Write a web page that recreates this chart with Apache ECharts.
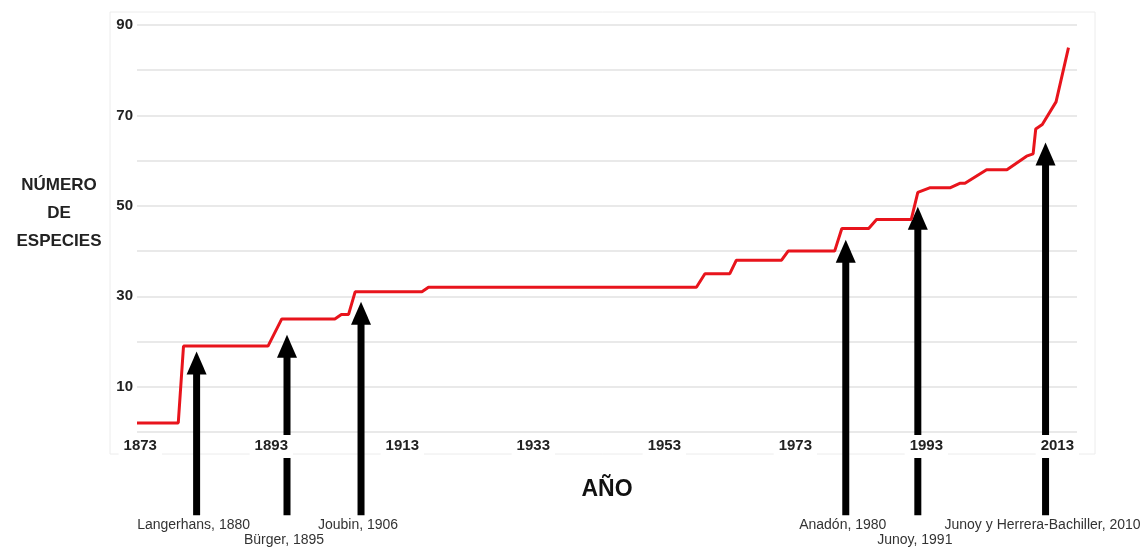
<!DOCTYPE html>
<html>
<head>
<meta charset="utf-8">
<script src="https://cdn.jsdelivr.net/npm/echarts@6/dist/echarts.min.js"></script>
<style>
  html, body { margin: 0; padding: 0; background: #fff; }
  #myChart { width: 1146px; height: 547px; }
</style>
</head>
<body>
<div id="myChart"></div>
<script>
// datos de la curva (año, número de especies)
var years = [1872.5, 1878.8, 1879.6, 1892.5, 1894.6, 1902.7, 1903.7, 1904.8, 1905.8, 1916.0, 1917.0,
             1957.9, 1959.2, 1963.0, 1964.0, 1970.9, 1971.9, 1979.0, 1980.1, 1984.2, 1985.4,
             1990.7, 1991.7, 1993.5, 1996.6, 1998.1, 1998.9, 2002.2, 2005.3, 2008.3, 2009.3,
             2009.7, 2010.7, 2012.8, 2014.7];
var counts = [2, 2, 19, 19, 25, 25, 26, 26, 31, 31, 32,
              32, 35, 35, 38, 38, 40, 40, 45, 45, 47,
              47, 53, 54, 54, 55, 55, 58, 58, 61, 61.5,
              67, 68, 73, 85];

// etiquetas de los ejes
var yearTicks = [1873, 1893, 1913, 1933, 1953, 1973, 1993, 2013];
var yLabels = [10, 30, 50, 70, 90];

// flechas: año, punta (valor), texto, fila del texto
var arrowYears = [1881.6, 1895.4, 1906.7, 1980.7, 1991.7, 2011.2];
var arrowTips = [17.8, 21.5, 28.8, 42.5, 49.8, 64];
var arrowNames = ['Langerhans, 1880', 'Bürger, 1895', 'Joubin, 1906', 'Anadón, 1980', 'Junoy, 1991', 'Junoy y Herrera-Bachiller, 2010'];
var arrowRows = [0, 1, 0, 0, 1, 0];
var ARROW_BASE = -18.4;

var FONT = 'Liberation Sans, Arial, sans-serif';

var lineData = [];
for (var i = 0; i < years.length; i++) {
    lineData.push([years[i], counts[i]]);
}
var arrowData = [];
for (var j = 0; j < arrowYears.length; j++) {
    arrowData.push([arrowYears[j], arrowTips[j], arrowRows[j], j]);
}

var chart = echarts.init(document.getElementById('myChart'));
chart.setOption({
    animation: false,
    backgroundColor: '#fff',
    grid: { left: 137, right: 69, top: 25, bottom: 115 },
    graphic: [
        {
            type: 'rect',
            shape: { x: 110, y: 12, width: 985, height: 442 },
            style: { fill: 'none', stroke: '#ececec', lineWidth: 1 },
            z: -1
        },
        {
            type: 'text',
            x: 59, y: 213,
            style: {
                text: 'NÚMERO\nDE\nESPECIES',
                fontFamily: FONT, fontSize: 17, fontWeight: 'bold',
                fill: '#222', align: 'center', verticalAlign: 'middle', lineHeight: 28
            }
        }
    ],
    xAxis: {
        type: 'value',
        min: 1872.5,
        max: 2016,
        z: 5,
        name: 'AÑO',
        nameLocation: 'middle',
        nameGap: 46,
        nameTextStyle: { fontFamily: FONT, fontSize: 23, fontWeight: 'bold', color: '#111' },
        axisLine: { show: false },
        axisTick: { show: false },
        splitLine: { show: false },
        axisLabel: {
            customValues: yearTicks,
            margin: 3,
            fontFamily: FONT, fontSize: 15, fontWeight: 'bold', color: '#222',
            backgroundColor: '#fff',
            padding: [3, 5, 5, 5],
            formatter: function (v) { return String(v); }
        }
    },
    yAxis: {
        type: 'value',
        min: 0,
        max: 90,
        interval: 10,
        axisLine: { show: false },
        axisTick: { show: false },
        splitLine: { lineStyle: { color: '#e2e2e2', width: 1.5 } },
        axisLabel: {
            margin: 4,
            fontFamily: FONT, fontSize: 15, fontWeight: 'bold', color: '#222',
            formatter: function (v) {
                return yLabels.indexOf(v) >= 0 ? String(v) : '';
            }
        }
    },
    series: [
        {
            type: 'line',
            data: lineData,
            showSymbol: false,
            lineStyle: { color: '#e8141c', width: 3 },
            z: 3
        },
        {
            type: 'custom',
            clip: false,
            z: 2,
            data: arrowData,
            renderItem: function (params, api) {
                var tip = api.coord([api.value(0), api.value(1)]);
                var base = api.coord([api.value(0), ARROW_BASE]);
                var row = api.value(2);
                var name = arrowNames[api.value(3)];
                var headH = 23, headW = 10, shaftW = 7;
                return {
                    type: 'group',
                    children: [
                        {
                            type: 'rect',
                            shape: { x: tip[0] - shaftW / 2, y: tip[1] + headH - 2, width: shaftW, height: base[1] - tip[1] - headH + 2 },
                            style: { fill: '#000' }
                        },
                        {
                            type: 'polygon',
                            shape: { points: [[tip[0], tip[1]], [tip[0] - headW, tip[1] + headH], [tip[0] + headW, tip[1] + headH]] },
                            style: { fill: '#000' }
                        },
                        {
                            type: 'text',
                            x: tip[0] - 3,
                            y: base[1] + 10 + row * 15,
                            style: {
                                text: name, fontFamily: FONT, fontSize: 14, fill: '#333',
                                align: 'center', verticalAlign: 'middle'
                            }
                        }
                    ]
                };
            }
        }
    ]
});
</script>
</body>
</html>
